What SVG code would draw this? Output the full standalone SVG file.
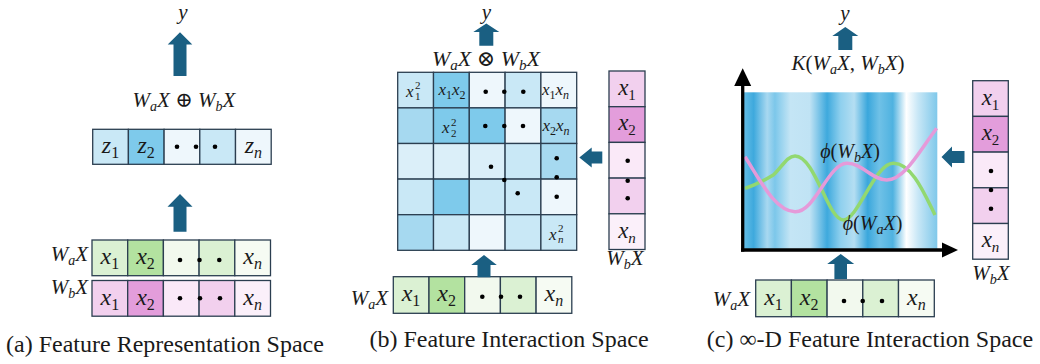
<svg xmlns="http://www.w3.org/2000/svg" width="1040" height="364" viewBox="0 0 1040 364">
<style>
.c{stroke:#2b3e50;stroke-width:1.3}
.m{font-family:"Liberation Serif","DejaVu Serif",serif;font-style:italic;fill:#1a1a1a}
.u{font-style:normal}
.arr{fill:#1a5f82}
.cap{font-family:"Liberation Serif","DejaVu Serif",serif;font-size:24px;fill:#1a1a1a}
.b1{fill:#c9e8f6}.b2{fill:#7ecaeb}.b3{fill:#eef7fc}.b4{fill:#a6d9f0}.b5{fill:#dbeff9}
.g1{fill:#dbf1d3}.g2{fill:#b3e2a0}.g3{fill:#f2f9ee}.g5{fill:#f6fbf3}
.p1{fill:#f2d0ee}.p2{fill:#e39ddb}.p3{fill:#fae9f8}.p5{fill:#fbf0fa}
.ax{stroke:#000;stroke-width:3.3;fill:none}
</style>
<defs>
<linearGradient id="bands" x1="0" y1="0" x2="1" y2="0">
<stop offset="0" stop-color="#63bde6"/>
<stop offset="0.05" stop-color="#3ea9dd"/>
<stop offset="0.12" stop-color="#a8d8f0"/>
<stop offset="0.16" stop-color="#7cc7ea"/>
<stop offset="0.24" stop-color="#c4e5f5"/>
<stop offset="0.34" stop-color="#c0e3f4"/>
<stop offset="0.43" stop-color="#3ea9dd"/>
<stop offset="0.50" stop-color="#8fd0ee"/>
<stop offset="0.57" stop-color="#b4def2"/>
<stop offset="0.64" stop-color="#3aa7dc"/>
<stop offset="0.70" stop-color="#6fc1e7"/>
<stop offset="0.77" stop-color="#4fb2e0"/>
<stop offset="0.84" stop-color="#ffffff"/>
<stop offset="0.90" stop-color="#c8e7f6"/>
<stop offset="1" stop-color="#7fc8ea"/>
</linearGradient>
</defs>

<!-- ===== Panel (a) ===== -->
<g id="a-y"><text class="m" font-size="21" x="183" y="19" text-anchor="middle">y</text></g>
<g id="a-sum"><text class="m" font-size="21" x="184" y="107" text-anchor="middle">W<tspan font-size="14" dy="4">a</tspan><tspan dy="-4">X</tspan><tspan class="u"> ⊕ </tspan>W<tspan font-size="14" dy="4">b</tspan><tspan dy="-4">X</tspan></text></g>
<g id="a-z">
<rect class="c b1" x="92.7" y="129.3" width="35.7" height="35"/>
<rect class="c b2" x="128.4" y="129.3" width="35.7" height="35"/>
<rect class="c b3" x="164.1" y="129.3" width="35.7" height="35"/>
<rect class="c b1" x="199.8" y="129.3" width="35.7" height="35"/>
<rect class="c b3" x="235.5" y="129.3" width="35.7" height="35"/>
<text class="m" font-size="24" y="153" text-anchor="middle"><tspan x="110.5">z<tspan class="u" font-size="16" dy="5">1</tspan></tspan></text>
<text class="m" font-size="24" y="153" text-anchor="middle"><tspan x="146.2">z<tspan class="u" font-size="16" dy="5">2</tspan></tspan></text>
<text class="m" font-size="24" y="153" text-anchor="middle"><tspan x="253.4">z<tspan font-size="16" dy="5">n</tspan></tspan></text>
<circle cx="177" cy="146.7" r="2.3"/><circle cx="196" cy="146.7" r="2.3"/><circle cx="215" cy="146.7" r="2.3"/>
</g>
<g id="a-wa">
<text class="m" font-size="21" x="88" y="261" text-anchor="end">W<tspan font-size="14" dy="4">a</tspan><tspan dy="-4">X</tspan></text>
<rect class="c g1" x="92" y="240" width="35.7" height="35.7"/>
<rect class="c g2" x="127.7" y="240" width="35.7" height="35.7"/>
<rect class="c g3" x="163.4" y="240" width="35.7" height="35.7"/>
<rect class="c g1" x="199.1" y="240" width="35.7" height="35.7"/>
<rect class="c g5" x="234.8" y="240" width="35.7" height="35.7"/>
<text class="m" font-size="24" y="264" text-anchor="middle"><tspan x="109.8">x<tspan class="u" font-size="16" dy="5">1</tspan></tspan></text>
<text class="m" font-size="24" y="264" text-anchor="middle"><tspan x="145.5">x<tspan class="u" font-size="16" dy="5">2</tspan></tspan></text>
<text class="m" font-size="24" y="264" text-anchor="middle"><tspan x="252.6">x<tspan font-size="16" dy="5">n</tspan></tspan></text>
<circle cx="180" cy="260" r="2.3"/><circle cx="199.5" cy="260" r="2.3"/><circle cx="219.3" cy="260" r="2.3"/>
</g>
<g id="a-wb">
<text class="m" font-size="21" x="88" y="294" text-anchor="end">W<tspan font-size="14" dy="4">b</tspan><tspan dy="-4">X</tspan></text>
<rect class="c p1" x="92" y="280.5" width="35.7" height="35.7"/>
<rect class="c p2" x="127.7" y="280.5" width="35.7" height="35.7"/>
<rect class="c p3" x="163.4" y="280.5" width="35.7" height="35.7"/>
<rect class="c p1" x="199.1" y="280.5" width="35.7" height="35.7"/>
<rect class="c p5" x="234.8" y="280.5" width="35.7" height="35.7"/>
<text class="m" font-size="24" y="304.5" text-anchor="middle"><tspan x="109.8">x<tspan class="u" font-size="16" dy="5">1</tspan></tspan></text>
<text class="m" font-size="24" y="304.5" text-anchor="middle"><tspan x="145.5">x<tspan class="u" font-size="16" dy="5">2</tspan></tspan></text>
<text class="m" font-size="24" y="304.5" text-anchor="middle"><tspan x="252.6">x<tspan font-size="16" dy="5">n</tspan></tspan></text>
<circle cx="180" cy="298.3" r="2.3"/><circle cx="200" cy="298.3" r="2.3"/><circle cx="220" cy="298.3" r="2.3"/>
</g>
<g id="a-caption"><text class="cap" x="165" y="352" text-anchor="middle">(a) Feature Representation Space</text></g>

<!-- ===== Panel (b) ===== -->
<g id="b-y"><text class="m" font-size="21" x="486.5" y="19" text-anchor="middle">y</text></g>
<g id="b-prod"><text class="m" font-size="22" x="486" y="65.5" text-anchor="middle">W<tspan font-size="15" dy="4">a</tspan><tspan dy="-4">X</tspan><tspan class="u"> ⊗ </tspan>W<tspan font-size="15" dy="4">b</tspan><tspan dy="-4">X</tspan></text></g>
<g id="b-matrix">
<rect class="c b1" x="397.7" y="72.3" width="35.8" height="35.6"/>
<rect class="c b2" x="433.5" y="72.3" width="35.8" height="35.6"/>
<rect class="c b3" x="469.3" y="72.3" width="35.8" height="35.6"/>
<rect class="c b1" x="505.1" y="72.3" width="35.8" height="35.6"/>
<rect class="c b3" x="540.9" y="72.3" width="35.8" height="35.6"/>
<rect class="c b4" x="397.7" y="107.9" width="35.8" height="35.6"/>
<rect class="c b2" x="433.5" y="107.9" width="35.8" height="35.6"/>
<rect class="c b2" x="469.3" y="107.9" width="35.8" height="35.6"/>
<rect class="c b3" x="505.1" y="107.9" width="35.8" height="35.6"/>
<rect class="c b4" x="540.9" y="107.9" width="35.8" height="35.6"/>
<rect class="c b5" x="397.7" y="143.5" width="35.8" height="35.6"/>
<rect class="c b5" x="433.5" y="143.5" width="35.8" height="35.6"/>
<rect class="c b5" x="469.3" y="143.5" width="35.8" height="35.6"/>
<rect class="c b1" x="505.1" y="143.5" width="35.8" height="35.6"/>
<rect class="c b4" x="540.9" y="143.5" width="35.8" height="35.6"/>
<rect class="c b1" x="397.7" y="179.1" width="35.8" height="35.6"/>
<rect class="c b2" x="433.5" y="179.1" width="35.8" height="35.6"/>
<rect class="c b1" x="469.3" y="179.1" width="35.8" height="35.6"/>
<rect class="c b1" x="505.1" y="179.1" width="35.8" height="35.6"/>
<rect class="c b3" x="540.9" y="179.1" width="35.8" height="35.6"/>
<rect class="c b4" x="397.7" y="214.7" width="35.8" height="35.6"/>
<rect class="c b1" x="433.5" y="214.7" width="35.8" height="35.6"/>
<rect class="c b3" x="469.3" y="214.7" width="35.8" height="35.6"/>
<rect class="c b1" x="505.1" y="214.7" width="35.8" height="35.6"/>
<rect class="c b1" x="540.9" y="214.7" width="35.8" height="35.6"/>
<text class="m" font-size="17"><tspan x="406" y="96.5">x</tspan><tspan class="u" font-size="11" x="415" y="89">2</tspan><tspan class="u" font-size="11" x="415" y="100">1</tspan></text>
<text class="m" font-size="17" x="438.5" y="95">x<tspan class="u" font-size="12" dy="4">1</tspan><tspan dy="-4">x</tspan><tspan class="u" font-size="12" dy="4">2</tspan></text>
<text class="m" font-size="17" x="542" y="95">x<tspan class="u" font-size="12" dy="4">1</tspan><tspan dy="-4">x</tspan><tspan font-size="12" dy="4">n</tspan></text>
<text class="m" font-size="17"><tspan x="442" y="133">x</tspan><tspan class="u" font-size="11" x="451" y="125.5">2</tspan><tspan class="u" font-size="11" x="451" y="136.5">2</tspan></text>
<text class="m" font-size="17" x="542.5" y="131">x<tspan class="u" font-size="12" dy="4">2</tspan><tspan dy="-4">x</tspan><tspan font-size="12" dy="4">n</tspan></text>
<text class="m" font-size="17"><tspan x="549" y="239.5">x</tspan><tspan class="u" font-size="11" x="558" y="232">2</tspan><tspan font-size="11" x="558" y="243">n</tspan></text>
<circle cx="485.7" cy="91.7" r="2.3"/><circle cx="504.3" cy="91.7" r="2.3"/><circle cx="523.3" cy="91.7" r="2.3"/>
<circle cx="485.3" cy="126" r="2.3"/><circle cx="504.3" cy="126" r="2.3"/><circle cx="523" cy="126" r="2.3"/>
<circle cx="491" cy="166.7" r="2.3"/><circle cx="504.3" cy="180" r="2.3"/><circle cx="517.7" cy="193.3" r="2.3"/>
<circle cx="556.7" cy="158.3" r="2.3"/><circle cx="556.7" cy="177.3" r="2.3"/><circle cx="556.7" cy="196.7" r="2.3"/>
</g>
<g id="b-wb">
<rect class="c p1" x="609" y="71" width="36" height="35.7"/>
<rect class="c p2" x="609" y="106.7" width="36" height="35.7"/>
<rect class="c p3" x="609" y="142.4" width="36" height="35.7"/>
<rect class="c p1" x="609" y="178.1" width="36" height="35.7"/>
<rect class="c p5" x="609" y="213.8" width="36" height="35.7"/>
<text class="m" font-size="23" y="94.5" text-anchor="middle"><tspan x="627">x<tspan class="u" font-size="15" dy="5">1</tspan></tspan></text>
<text class="m" font-size="23" y="130.2" text-anchor="middle"><tspan x="627">x<tspan class="u" font-size="15" dy="5">2</tspan></tspan></text>
<text class="m" font-size="23" y="237.5" text-anchor="middle"><tspan x="627">x<tspan font-size="15" dy="5">n</tspan></tspan></text>
<circle cx="627.7" cy="160.7" r="2.3"/><circle cx="627.7" cy="180.7" r="2.3"/><circle cx="627.7" cy="198.3" r="2.3"/>
<text class="m" font-size="21" x="625" y="265" text-anchor="middle">W<tspan font-size="14" dy="4">b</tspan><tspan dy="-4">X</tspan></text>
</g>
<g id="b-wa">
<text class="m" font-size="21" x="388" y="305" text-anchor="end">W<tspan font-size="14" dy="4">a</tspan><tspan dy="-4">X</tspan></text>
<rect class="c g1" x="393.3" y="276.7" width="35.7" height="36.6"/>
<rect class="c g2" x="429" y="276.7" width="35.7" height="36.6"/>
<rect class="c g3" x="464.7" y="276.7" width="35.7" height="36.6"/>
<rect class="c g1" x="500.4" y="276.7" width="35.7" height="36.6"/>
<rect class="c g5" x="536.1" y="276.7" width="35.7" height="36.6"/>
<text class="m" font-size="24" y="301" text-anchor="middle"><tspan x="411">x<tspan class="u" font-size="16" dy="5">1</tspan></tspan></text>
<text class="m" font-size="24" y="301" text-anchor="middle"><tspan x="446.7">x<tspan class="u" font-size="16" dy="5">2</tspan></tspan></text>
<text class="m" font-size="24" y="301" text-anchor="middle"><tspan x="553.8">x<tspan font-size="16" dy="5">n</tspan></tspan></text>
<circle cx="482.3" cy="296.7" r="2.3"/><circle cx="501" cy="296.7" r="2.3"/><circle cx="520" cy="296.7" r="2.3"/>
</g>
<g id="b-caption"><text class="cap" x="509" y="347" text-anchor="middle">(b) Feature Interaction Space</text></g>

<!-- ===== Panel (c) ===== -->
<g id="c-y"><text class="m" font-size="21" x="845" y="19.5" text-anchor="middle">y</text></g>
<g id="c-kernel"><text class="m" font-size="21" x="848" y="70" text-anchor="middle">K<tspan class="u">(</tspan>W<tspan font-size="14" dy="4">a</tspan><tspan dy="-4">X</tspan><tspan class="u">, </tspan>W<tspan font-size="14" dy="4">b</tspan><tspan dy="-4">X</tspan><tspan class="u">)</tspan></text></g>
<g id="c-space">
<rect x="744" y="92.3" width="193.3" height="156.5" fill="url(#bands)"/>
<path d="M745,188.3 C755,185 765,180 773.3,175 C782,167 787,156 795,156 C815,156 828,220 843.3,220 C858,220 875,163 893.3,163.3 C912,163 925,195 935,215" stroke="#92d870" stroke-width="3.5" fill="none"/>
<path d="M745,156.7 C760,180 775,211 795,211.7 C815,212.5 828,164 846.7,163.3 C862,162.8 872,180 886.7,180 C905,180 920,150 936.7,128.3" stroke="#e59ad9" stroke-width="3.5" fill="none"/>
<text class="m" font-size="20" x="850" y="158" text-anchor="middle">ϕ<tspan class="u">(</tspan>W<tspan font-size="14" dy="4">b</tspan><tspan dy="-4">X</tspan><tspan class="u">)</tspan></text>
<text class="m" font-size="20" x="872.5" y="230" text-anchor="middle">ϕ<tspan class="u">(</tspan>W<tspan font-size="14" dy="4">a</tspan><tspan dy="-4">X</tspan><tspan class="u">)</tspan></text>
<path class="ax" d="M742.7,251.6 V84"/>
<path class="ax" d="M741,250 H944"/>
<polygon points="742.7,68.3 751.2,86 734.2,86"/>
<polygon points="958,250 942,242.5 942,257.5"/>
</g>
<g id="c-wb">
<rect class="c p1" x="972.7" y="80.7" width="35.6" height="35.7"/>
<rect class="c p2" x="972.7" y="116.4" width="35.6" height="35.7"/>
<rect class="c p3" x="972.7" y="152.1" width="35.6" height="35.7"/>
<rect class="c p1" x="972.7" y="187.8" width="35.6" height="35.7"/>
<rect class="c p5" x="972.7" y="223.5" width="35.6" height="35.7"/>
<text class="m" font-size="23" y="104.5" text-anchor="middle"><tspan x="990.5">x<tspan class="u" font-size="15" dy="5">1</tspan></tspan></text>
<text class="m" font-size="23" y="140.2" text-anchor="middle"><tspan x="990.5">x<tspan class="u" font-size="15" dy="5">2</tspan></tspan></text>
<text class="m" font-size="23" y="247" text-anchor="middle"><tspan x="990.5">x<tspan font-size="15" dy="5">n</tspan></tspan></text>
<circle cx="991" cy="171" r="2.3"/><circle cx="991" cy="190" r="2.3"/><circle cx="991" cy="208.7" r="2.3"/>
<text class="m" font-size="21" x="991" y="280" text-anchor="middle">W<tspan font-size="14" dy="4">b</tspan><tspan dy="-4">X</tspan></text>
</g>
<g id="c-wa">
<text class="m" font-size="21" x="750" y="305.5" text-anchor="end">W<tspan font-size="14" dy="4">a</tspan><tspan dy="-4">X</tspan></text>
<rect class="c g1" x="755.7" y="280" width="35.7" height="36.7"/>
<rect class="c g2" x="791.4" y="280" width="35.7" height="36.7"/>
<rect class="c g3" x="827.1" y="280" width="35.7" height="36.7"/>
<rect class="c g1" x="862.8" y="280" width="35.7" height="36.7"/>
<rect class="c g5" x="898.5" y="280" width="35.8" height="36.7"/>
<text class="m" font-size="24" y="304.5" text-anchor="middle"><tspan x="773.5">x<tspan class="u" font-size="16" dy="5">1</tspan></tspan></text>
<text class="m" font-size="24" y="304.5" text-anchor="middle"><tspan x="809.2">x<tspan class="u" font-size="16" dy="5">2</tspan></tspan></text>
<text class="m" font-size="24" y="304.5" text-anchor="middle"><tspan x="916.4">x<tspan font-size="16" dy="5">n</tspan></tspan></text>
<circle cx="844" cy="301" r="2.3"/><circle cx="862.7" cy="301" r="2.3"/><circle cx="882" cy="301" r="2.3"/>
</g>
<g id="c-caption"><text class="cap" x="870" y="347" text-anchor="middle">(c) ∞-D Feature Interaction Space</text></g>

<!-- ===== Connectors (block arrows) ===== -->
<g id="connectors" class="arr">
<polygon points="180,32.3 192.3,44.5 186.5,44.5 186.5,76 173.5,76 173.5,44.5 167.7,44.5"/>
<polygon points="180,194 192.5,206.7 186.5,206.7 186.5,231.7 173.5,231.7 173.5,206.7 167.5,206.7"/>
<polygon points="486.3,23.5 499.3,32 493.3,32 493.3,45.7 479.3,45.7 479.3,32 473.3,32"/>
<polygon points="484,255 496.8,265 490.5,265 490.5,277.3 477.5,277.3 477.5,265 471.2,265"/>
<polygon points="579.3,157.5 591.7,147.5 591.7,151.5 602.3,151.5 602.3,163.5 591.7,163.5 591.7,167.5"/>
<polygon points="845.3,27 858.3,36 852.3,36 852.3,50 838.3,50 838.3,36 832.3,36"/>
<polygon points="840.7,254 854.2,264 847,264 847,279 834.4,279 834.4,264 827.2,264"/>
<polygon points="941.5,157 952,146.5 952,151 964.5,151 964.5,163 952,163 952,167.5"/>
</g>
</svg>
